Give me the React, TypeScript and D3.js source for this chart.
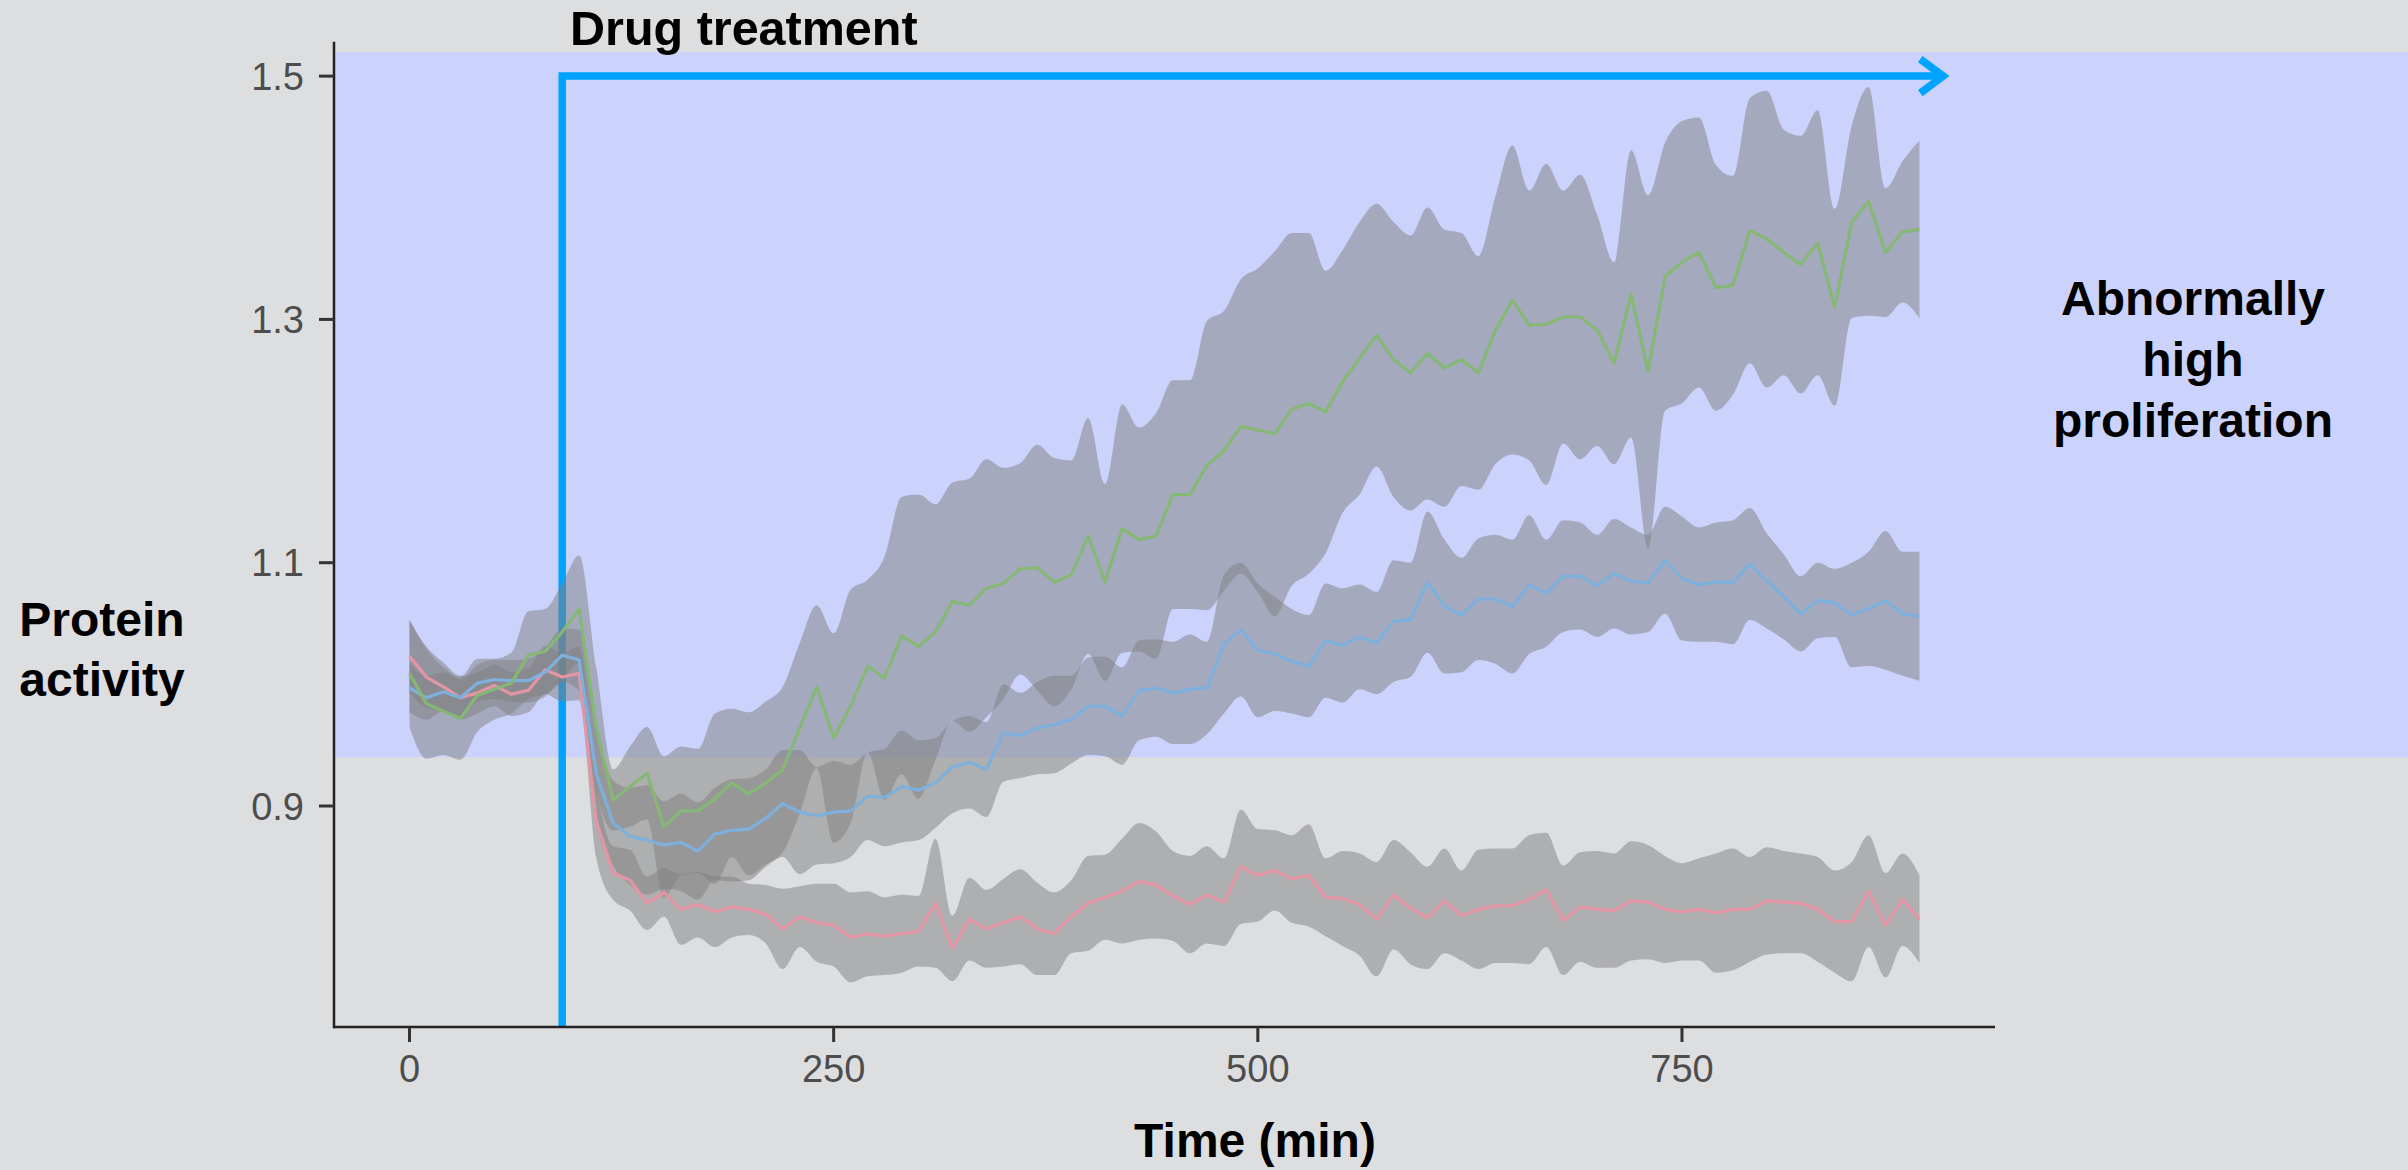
import React, { useEffect } from 'react';
import * as d3 from 'd3';

// ---------------- data ----------------
const times = [
  0, 10, 20, 30, 40, 50, 60, 70, 80, 90,
  100, 110, 120, 130, 140, 150, 160, 170, 180, 190,
  200, 210, 220, 230, 240, 250, 260, 270, 280, 290,
  300, 310, 320, 330, 340, 350, 360, 370, 380, 390,
  400, 410, 420, 430, 440, 450, 460, 470, 480, 490,
  500, 510, 520, 530, 540, 550, 560, 570, 580, 590,
  600, 610, 620, 630, 640, 650, 660, 670, 680, 690,
  700, 710, 720, 730, 740, 750, 760, 770, 780, 790,
  800, 810, 820, 830, 840, 850, 860, 870, 880, 890,
];

const greenMean = [
  1.009, 0.984, 0.978, 0.972, 0.991, 0.996, 1.001, 1.024, 1.027, 1.043, 1.062,
  0.965, 0.905, 0.916, 0.927, 0.883, 0.896, 0.896, 0.906, 0.919, 0.910, 0.919, 0.930, 0.964, 0.998, 0.956, 0.982, 1.015, 1.005, 1.040,
  1.031, 1.043, 1.068, 1.065, 1.079, 1.083, 1.095, 1.096, 1.084, 1.090, 1.122, 1.084, 1.128, 1.119, 1.122, 1.156, 1.156, 1.180, 1.192, 1.212, 1.209, 1.206, 1.226, 1.231, 1.224, 1.249, 1.268, 1.287, 1.267, 1.256,
  1.272, 1.260, 1.267, 1.256, 1.291, 1.316, 1.295, 1.296, 1.302, 1.302, 1.291, 1.264, 1.321, 1.257, 1.335, 1.347, 1.355, 1.326, 1.328, 1.373, 1.366, 1.355, 1.345, 1.363, 1.310, 1.380, 1.397, 1.355, 1.372, 1.374,
];
const greenSd = [
  0.044, 0.045, 0.036, 0.034, 0.030, 0.025, 0.025, 0.036, 0.035, 0.040, 0.044,
  0.050, 0.025, 0.033, 0.038, 0.058, 0.053, 0.051, 0.070, 0.061, 0.067, 0.067, 0.068, 0.070, 0.067, 0.086, 0.096, 0.071, 0.100, 0.114,
  0.125, 0.105, 0.098, 0.104, 0.106, 0.095, 0.087, 0.101, 0.102, 0.094, 0.097, 0.081, 0.102, 0.092, 0.101, 0.094, 0.094, 0.119, 0.115, 0.121, 0.133, 0.150, 0.145, 0.140, 0.116, 0.108, 0.112, 0.108, 0.113, 0.113,
  0.120, 0.114, 0.104, 0.096, 0.110, 0.127, 0.111, 0.132, 0.104, 0.117, 0.095, 0.083, 0.118, 0.145, 0.110, 0.116, 0.111, 0.101, 0.090, 0.109, 0.122, 0.101, 0.106, 0.109, 0.081, 0.079, 0.094, 0.053, 0.058, 0.073,
];

const blueMean = [
  0.997, 0.989, 0.994, 0.989, 1.001, 1.004, 1.003, 1.003, 1.010, 1.024, 1.020,
  0.927, 0.886, 0.875, 0.872, 0.868, 0.870, 0.863, 0.877, 0.880, 0.881, 0.890, 0.902, 0.895, 0.892, 0.895, 0.896, 0.908, 0.907, 0.916,
  0.913, 0.919, 0.932, 0.936, 0.930, 0.960, 0.958, 0.964, 0.967, 0.971, 0.982, 0.982, 0.974, 0.995, 0.997, 0.993, 0.996, 0.997, 1.033, 1.045, 1.028, 1.025, 1.019, 1.015, 1.036, 1.032, 1.039, 1.034, 1.052, 1.053,
  1.084, 1.064, 1.057, 1.070, 1.070, 1.064, 1.082, 1.075, 1.089, 1.089, 1.081, 1.091, 1.085, 1.083, 1.102, 1.087, 1.082, 1.084, 1.084, 1.099, 1.085, 1.072, 1.058, 1.069, 1.067, 1.057, 1.062, 1.069, 1.058, 1.056,
];
const blueSd = [
  0.020, 0.018, 0.016, 0.015, 0.015, 0.016, 0.017, 0.018, 0.020, 0.022, 0.025,
  0.040, 0.035, 0.040, 0.045, 0.036, 0.040, 0.040, 0.038, 0.042, 0.042, 0.040, 0.044, 0.051, 0.040, 0.042, 0.038, 0.036, 0.040, 0.046,
  0.041, 0.037, 0.038, 0.038, 0.039, 0.040, 0.035, 0.038, 0.040, 0.036, 0.040, 0.041, 0.040, 0.041, 0.040, 0.042, 0.045, 0.038, 0.057, 0.055, 0.055, 0.047, 0.043, 0.042, 0.047, 0.047, 0.043, 0.042, 0.050, 0.047,
  0.058, 0.055, 0.047, 0.050, 0.053, 0.055, 0.057, 0.044, 0.046, 0.044, 0.042, 0.045, 0.044, 0.040, 0.044, 0.051, 0.047, 0.049, 0.051, 0.046, 0.039, 0.035, 0.031, 0.031, 0.028, 0.043, 0.047, 0.057, 0.051, 0.053,
];

const pinkMean = [
  1.023, 1.006, 0.998, 0.989, 0.993, 0.999, 0.992, 0.995, 1.012, 1.006, 1.009,
  0.888, 0.845, 0.839, 0.820, 0.829, 0.815, 0.819, 0.813, 0.817, 0.815, 0.811, 0.799, 0.809, 0.804, 0.802, 0.792, 0.795, 0.793, 0.795,
  0.797, 0.820, 0.783, 0.807, 0.799, 0.804, 0.809, 0.799, 0.795, 0.809, 0.820, 0.825, 0.830, 0.838, 0.835, 0.826, 0.819, 0.827, 0.821, 0.850, 0.843, 0.847, 0.840, 0.843, 0.825, 0.824, 0.819, 0.807, 0.827, 0.816,
  0.808, 0.822, 0.810, 0.815, 0.818, 0.818, 0.823, 0.831, 0.806, 0.817, 0.815, 0.814, 0.822, 0.821, 0.815, 0.813, 0.815, 0.812, 0.815, 0.815, 0.822, 0.821, 0.820, 0.815, 0.805, 0.805, 0.830, 0.802, 0.823, 0.807,
];
const pinkSd = [
  0.030, 0.025, 0.020, 0.018, 0.017, 0.017, 0.018, 0.018, 0.020, 0.020, 0.022,
  0.030, 0.022, 0.025, 0.022, 0.020, 0.029, 0.027, 0.029, 0.025, 0.021, 0.024, 0.033, 0.025, 0.032, 0.034, 0.037, 0.035, 0.032, 0.032,
  0.029, 0.053, 0.027, 0.034, 0.032, 0.036, 0.039, 0.038, 0.034, 0.030, 0.039, 0.035, 0.043, 0.048, 0.044, 0.037, 0.040, 0.040, 0.036, 0.047, 0.038, 0.033, 0.036, 0.042, 0.032, 0.039, 0.042, 0.047, 0.045, 0.046,
  0.042, 0.043, 0.037, 0.049, 0.047, 0.047, 0.053, 0.047, 0.045, 0.045, 0.048, 0.047, 0.049, 0.047, 0.044, 0.040, 0.042, 0.049, 0.050, 0.043, 0.044, 0.042, 0.041, 0.043, 0.042, 0.049, 0.046, 0.043, 0.038, 0.036,
];

const xTicks = [0, 250, 500, 750];
const yTicks = [0.9, 1.1, 1.3, 1.5];
const highBand = [0.94, 1.52];
const treatmentTime = 90;
const arrowEndTime = 904;
const arrowLevel = 1.5;
const sideLabelLines = ['Abnormally', 'high', 'proliferation'];
const yLabelLines = ['Protein', 'activity'];

const seriesList = [
  { name: 'pink', mean: pinkMean, sd: pinkSd, color: '#E495A5' },
  { name: 'blue', mean: blueMean, sd: blueSd, color: '#7DB0DD' },
  { name: 'green', mean: greenMean, sd: greenSd, color: '#86B875' },
];

// ---------------- layout ----------------
const W = 2408;
const H = 1170;
const BG = '#DDDEE0';
const BAND = '#CBD3FC';
const ARROW = '#00A3FF';
const FONT = '"Liberation Sans", Arial, Helvetica, sans-serif';

export default function App() {
  useEffect(() => {
    document.body.style.margin = '0';
    document.body.style.overflow = 'hidden';
  }, []);

  const x = d3.scaleLinear().domain([-44.5, 934.5]).range([334, 1995]);
  const y = d3.scaleLinear().domain([0.71833, 1.52829]).range([1027, 41.7]);

  const [xl, xr] = x.range();
  const [yb, yt] = y.range();

  const area = d3
    .area<number>()
    .x((_, i) => x(times[i]))
    .curve(d3.curveMonotoneX);

  const line = d3
    .line<number>()
    .x((_, i) => x(times[i]))
    .y((d) => y(d));

  const ax = x(treatmentTime);
  const ay = y(arrowLevel);
  const ex = x(arrowEndTime);
  const arrowPath = `M${ax},${yb} V${ay} H${ex}`;
  const headPath = `M${ex - 23},${ay - 17} L${ex},${ay} L${ex - 23},${ay + 17}`;

  return (
    <svg
      width={W}
      height={H}
      style={{ position: 'absolute', left: 0, top: 0, display: 'block' }}
      fontFamily={FONT}
    >
      <rect x={0} y={0} width={W} height={H} fill={BG} />

      {/* abnormal proliferation band */}
      <rect
        x={xl}
        y={y(highBand[1])}
        width={W - xl}
        height={y(highBand[0]) - y(highBand[1])}
        fill={BAND}
      />

      {/* drug treatment arrow */}
      <path d={arrowPath} fill="none" stroke={ARROW} strokeWidth={7.5} strokeLinejoin="miter" />
      <path d={headPath} fill="none" stroke={ARROW} strokeWidth={7.5} strokeLinejoin="miter" strokeMiterlimit={10} />

      {/* ribbons */}
      {seriesList.map((s) => (
        <path
          key={'rib-' + s.name}
          d={
            area
              .y0((d, i) => y(d - s.sd[i]))
              .y1((d, i) => y(d + s.sd[i]))(s.mean) || ''
          }
          fill="#7F7F7F"
          fillOpacity={0.5}
          stroke="none"
        />
      ))}

      {/* mean lines */}
      {seriesList.map((s) => (
        <path
          key={'line-' + s.name}
          d={line(s.mean) || ''}
          fill="none"
          stroke={s.color}
          strokeWidth={3.2}
          strokeLinejoin="round"
        />
      ))}

      {/* axes */}
      <line x1={xl - 1} x2={xr} y1={yb} y2={yb} stroke="#222" strokeWidth={2.5} />
      <line x1={xl} x2={xl} y1={yt} y2={yb + 1.2} stroke="#222" strokeWidth={2.5} />

      {xTicks.map((t) => (
        <g key={'xt' + t}>
          <line x1={x(t)} x2={x(t)} y1={yb} y2={yb + 15} stroke="#333" strokeWidth={3} />
          <text x={x(t)} y={1082} textAnchor="middle" fontSize={38} fill="#4D4D4D">
            {t}
          </text>
        </g>
      ))}
      {yTicks.map((v) => (
        <g key={'yt' + v}>
          <line x1={xl - 15} x2={xl} y1={y(v)} y2={y(v)} stroke="#333" strokeWidth={3} />
          <text x={304} y={y(v)} dy="0.36em" textAnchor="end" fontSize={38} fill="#4D4D4D">
            {v.toFixed(1)}
          </text>
        </g>
      ))}

      {/* labels */}
      <text x={1255} y={1157} textAnchor="middle" fontSize={48} fontWeight="bold" fill="#000">
        Time (min)
      </text>
      {yLabelLines.map((l, i) => (
        <text key={l} x={102} y={636 + i * 59.5} textAnchor="middle" fontSize={48} fontWeight="bold" fill="#000">
          {l}
        </text>
      ))}
      <text x={570} y={45} fontSize={48.5} fontWeight="bold" fill="#000">
        Drug treatment
      </text>
      {sideLabelLines.map((l, i) => (
        <text key={l} x={2193} y={315 + i * 61} textAnchor="middle" fontSize={48} fontWeight="bold" fill="#000">
          {l}
        </text>
      ))}
    </svg>
  );
}
